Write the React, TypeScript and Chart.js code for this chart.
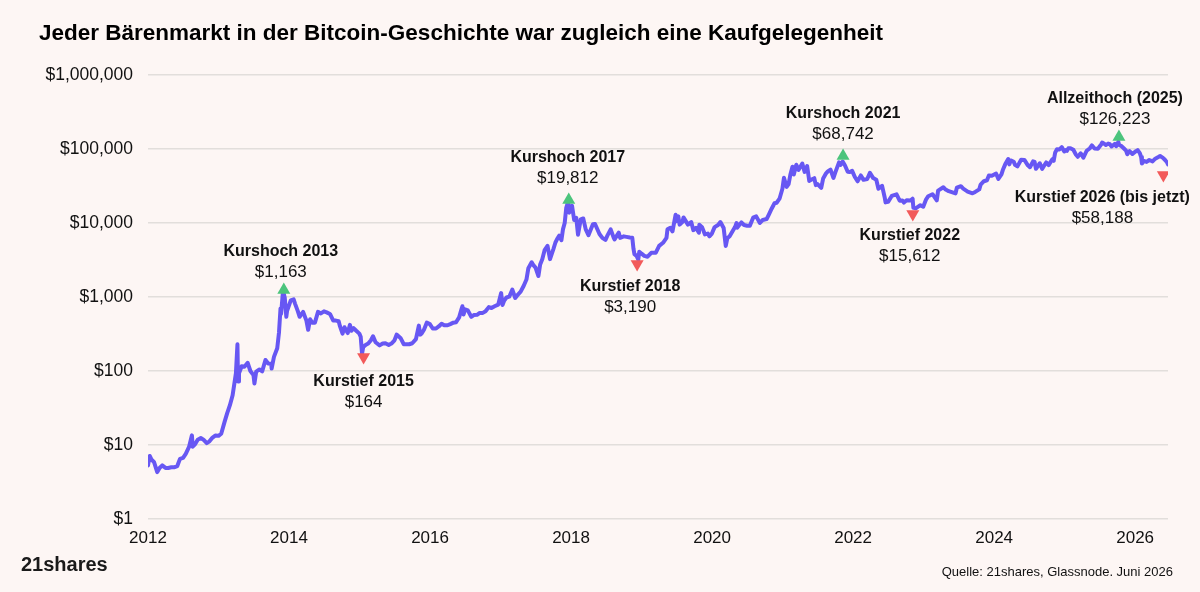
import React, { useEffect, useRef } from 'react';
import { Chart, registerables } from 'chart.js';

Chart.register(...registerables);

const TITLE = 'Jeder Bärenmarkt in der Bitcoin-Geschichte war zugleich eine Kaufgelegenheit';
const SOURCE = 'Quelle: 21shares, Glassnode. Juni 2026';
const LOGO = '21shares';

// Bitcoin price (USD)
const btcSeries: Array<[string, number]> = [
  ['2012-01-01', 5.3], ['2012-01-10', 7.1], ['2012-01-20', 6.3], ['2012-02-01', 5.9], ['2012-02-18', 4.3],
  ['2012-03-01', 4.9], ['2012-03-15', 5.3], ['2012-04-01', 4.9], ['2012-04-15', 4.9], ['2012-05-01', 5.0],
  ['2012-05-15', 5.0], ['2012-06-01', 5.2], ['2012-06-15', 6.5], ['2012-07-01', 6.7], ['2012-07-15', 7.6],
  ['2012-08-01', 9.4], ['2012-08-16', 13.5], ['2012-08-20', 9.5], ['2012-09-01', 10.2], ['2012-09-15', 11.8],
  ['2012-10-01', 12.4], ['2012-10-15', 11.8], ['2012-11-01', 10.6], ['2012-11-15', 11.2], ['2012-12-01', 12.6],
  ['2012-12-15', 13.4],
  ['2013-01-01', 13.3], ['2013-01-15', 14.2], ['2013-02-01', 20.4], ['2013-02-15', 27], ['2013-03-01', 34.5],
  ['2013-03-15', 47], ['2013-04-01', 93], ['2013-04-09', 230], ['2013-04-12', 72], ['2013-04-17', 93],
  ['2013-05-01', 116], ['2013-05-15', 114], ['2013-06-01', 129], ['2013-06-15', 100], ['2013-07-01', 88],
  ['2013-07-06', 68], ['2013-07-15', 98], ['2013-08-01', 105], ['2013-08-15', 99], ['2013-09-01', 141],
  ['2013-09-15', 126], ['2013-10-01', 125], ['2013-10-03', 108], ['2013-10-15', 155], ['2013-11-01', 203],
  ['2013-11-10', 330], ['2013-11-18', 700], ['2013-11-21', 590], ['2013-11-30', 1140], ['2013-12-05', 1100],
  ['2013-12-10', 975], ['2013-12-18', 540], ['2013-12-22', 650],
  ['2014-01-01', 770], ['2014-01-10', 900], ['2014-01-25', 930], ['2014-02-01', 815], ['2014-02-15', 650],
  ['2014-02-25', 540], ['2014-03-01', 560], ['2014-03-15', 630], ['2014-04-01', 480], ['2014-04-10', 360],
  ['2014-04-20', 500], ['2014-05-01', 450], ['2014-05-15', 450], ['2014-05-31', 630], ['2014-06-15', 600],
  ['2014-07-01', 640], ['2014-07-15', 620], ['2014-08-01', 590], ['2014-08-18', 480], ['2014-09-01', 480],
  ['2014-09-15', 470], ['2014-09-22', 400], ['2014-10-05', 320], ['2014-10-15', 390], ['2014-11-01', 325],
  ['2014-11-12', 420], ['2014-11-20', 350], ['2014-12-01', 380], ['2014-12-15', 350], ['2014-12-31', 320],
  ['2015-01-07', 290], ['2015-01-14', 172], ['2015-01-20', 210], ['2015-02-01', 225], ['2015-02-15', 235],
  ['2015-03-01', 260], ['2015-03-12', 295], ['2015-03-25', 245], ['2015-04-15', 222], ['2015-05-01', 235],
  ['2015-05-15', 237], ['2015-06-01', 225], ['2015-06-15', 235], ['2015-07-01', 260], ['2015-07-12', 310],
  ['2015-08-01', 280], ['2015-08-18', 230], ['2015-09-01', 230], ['2015-09-15', 230], ['2015-10-01', 237],
  ['2015-10-20', 270], ['2015-11-04', 410], ['2015-11-11', 310], ['2015-11-20', 325], ['2015-12-01', 365],
  ['2015-12-15', 450], ['2015-12-31', 430],
  ['2016-01-15', 375], ['2016-02-01', 375], ['2016-02-15', 400], ['2016-03-01', 435], ['2016-03-15', 415],
  ['2016-04-01', 415], ['2016-04-15', 430], ['2016-05-01', 450], ['2016-05-15', 455], ['2016-05-31', 530],
  ['2016-06-12', 680], ['2016-06-17', 750], ['2016-06-23', 580], ['2016-07-01', 680], ['2016-07-15', 660],
  ['2016-08-02', 540], ['2016-08-15', 570], ['2016-09-01', 575], ['2016-09-15', 610], ['2016-10-01', 610],
  ['2016-10-15', 640], ['2016-11-01', 730], ['2016-11-15', 710], ['2016-12-01', 750], ['2016-12-20', 790],
  ['2017-01-04', 1130], ['2017-01-11', 780], ['2017-01-20', 895], ['2017-02-01', 985], ['2017-02-15', 1010],
  ['2017-03-03', 1260], ['2017-03-18', 970], ['2017-04-01', 1080], ['2017-04-15', 1180], ['2017-05-01', 1420],
  ['2017-05-15', 1720], ['2017-05-25', 2450], ['2017-06-11', 2950], ['2017-06-20', 2690], ['2017-07-01', 2500],
  ['2017-07-16', 1920], ['2017-07-25', 2750], ['2017-08-05', 3230], ['2017-08-17', 4300], ['2017-09-01', 4900],
  ['2017-09-14', 3250], ['2017-10-01', 4400], ['2017-10-12', 5450], ['2017-10-20', 6000], ['2017-11-01', 6750],
  ['2017-11-12', 5850], ['2017-11-20', 8200], ['2017-11-29', 10000], ['2017-12-07', 16000], ['2017-12-17', 19500],
  ['2017-12-22', 13800],
  ['2018-01-06', 17100], ['2018-01-17', 11000], ['2018-01-28', 11700], ['2018-02-06', 6950], ['2018-02-20', 11200],
  ['2018-03-05', 11500], ['2018-03-18', 8200], ['2018-04-01', 6850], ['2018-04-24', 9600], ['2018-05-05', 9700],
  ['2018-05-28', 7100], ['2018-06-12', 6300], ['2018-06-28', 5900], ['2018-07-08', 6750], ['2018-07-25', 8200],
  ['2018-08-10', 6300], ['2018-08-14', 6000], ['2018-09-05', 7400], ['2018-09-12', 6300], ['2018-10-01', 6600],
  ['2018-10-15', 6500], ['2018-11-01', 6370], ['2018-11-14', 6300], ['2018-11-20', 4500], ['2018-11-25', 3800],
  ['2018-12-06', 3600], ['2018-12-15', 3200], ['2018-12-20', 4100],
  ['2019-01-01', 3850], ['2019-01-15', 3600], ['2019-02-01', 3500], ['2019-02-20', 3950], ['2019-03-15', 3950],
  ['2019-04-02', 4900], ['2019-04-22', 5400], ['2019-05-10', 6300], ['2019-05-15', 8200], ['2019-05-30', 8600],
  ['2019-06-10', 7700], ['2019-06-26', 12900], ['2019-07-02', 10600], ['2019-07-10', 12300], ['2019-07-17', 9500],
  ['2019-08-01', 10400], ['2019-08-06', 11900], ['2019-08-29', 9500], ['2019-09-15', 10300], ['2019-09-26', 8000],
  ['2019-10-10', 8600], ['2019-10-25', 7400], ['2019-10-27', 9500], ['2019-11-10', 8800], ['2019-11-25', 7000],
  ['2019-12-10', 7200], ['2019-12-18', 6600], ['2019-12-31', 7200],
  ['2020-01-14', 8800], ['2020-02-01', 9400], ['2020-02-13', 10300], ['2020-03-01', 8550], ['2020-03-12', 4900],
  ['2020-03-20', 6200], ['2020-04-01', 6600], ['2020-04-29', 8800], ['2020-05-07', 10000], ['2020-05-10', 8600],
  ['2020-06-01', 10200], ['2020-06-15', 9400], ['2020-07-01', 9200], ['2020-07-15', 9200], ['2020-08-01', 11800],
  ['2020-08-17', 12300], ['2020-09-05', 10000], ['2020-09-20', 11000], ['2020-10-10', 11300], ['2020-10-21', 12900],
  ['2020-11-05', 15600], ['2020-11-20', 18500], ['2020-12-01', 18800], ['2020-12-16', 21300], ['2020-12-31', 29000],
  ['2021-01-08', 40800], ['2021-01-22', 30800], ['2021-02-01', 33500], ['2021-02-10', 44800], ['2021-02-21', 57500],
  ['2021-02-28', 45200], ['2021-03-13', 61200], ['2021-03-25', 52300], ['2021-04-13', 63500], ['2021-04-25', 49000],
  ['2021-05-08', 58800], ['2021-05-19', 37000], ['2021-05-25', 38000], ['2021-06-14', 40300], ['2021-06-22', 32500],
  ['2021-07-01', 33500], ['2021-07-20', 29800], ['2021-07-30', 40000], ['2021-08-14', 47000], ['2021-08-23', 49800],
  ['2021-09-06', 52700], ['2021-09-21', 40600], ['2021-10-01', 48200], ['2021-10-20', 66000], ['2021-10-28', 60800],
  ['2021-11-08', 67500], ['2021-11-20', 59800], ['2021-12-04', 49300], ['2021-12-15', 48900], ['2021-12-27', 50700],
  ['2022-01-10', 41800], ['2022-01-24', 36600], ['2022-02-10', 43900], ['2022-02-24', 38300], ['2022-03-15', 39300],
  ['2022-03-29', 47500], ['2022-04-15', 40500], ['2022-05-01', 38500], ['2022-05-12', 29000], ['2022-05-31', 31800],
  ['2022-06-13', 22500], ['2022-06-18', 19000], ['2022-07-01', 19300], ['2022-07-20', 23200], ['2022-08-14', 24400],
  ['2022-08-30', 20000], ['2022-09-13', 20200], ['2022-09-21', 18900], ['2022-10-05', 20300], ['2022-10-25', 20100],
  ['2022-11-05', 21300], ['2022-11-09', 16000], ['2022-11-21', 15800], ['2022-12-15', 17400], ['2022-12-30', 16600],
  ['2023-01-14', 20900], ['2023-01-25', 23000], ['2023-02-16', 24500], ['2023-03-10', 20200], ['2023-03-17', 27400],
  ['2023-04-13', 30400], ['2023-04-25', 28300], ['2023-05-11', 26900], ['2023-06-15', 25100], ['2023-06-22', 30000],
  ['2023-07-13', 31400], ['2023-07-25', 29200], ['2023-08-17', 26600], ['2023-09-11', 25200], ['2023-09-25', 26300],
  ['2023-10-16', 28500], ['2023-10-23', 33000], ['2023-11-09', 36700], ['2023-11-25', 37800], ['2023-12-05', 44000],
  ['2023-12-20', 43600],
  ['2024-01-11', 46600], ['2024-01-23', 39500], ['2024-02-08', 45300], ['2024-02-15', 51900], ['2024-02-28', 62500],
  ['2024-03-14', 73100], ['2024-03-20', 62000], ['2024-03-27', 70000], ['2024-04-12', 67200], ['2024-04-18', 61300],
  ['2024-05-01', 58200], ['2024-05-20', 71400], ['2024-06-06', 71100], ['2024-06-24', 60200], ['2024-07-05', 56700],
  ['2024-07-21', 68000], ['2024-07-29', 66800], ['2024-08-05', 54000], ['2024-08-25', 64200], ['2024-09-06', 53900],
  ['2024-09-27', 65800], ['2024-10-10', 60500], ['2024-10-29', 72700], ['2024-11-05', 69300], ['2024-11-13', 90000],
  ['2024-11-22', 98900], ['2024-12-05', 98700], ['2024-12-17', 106000], ['2024-12-30', 92700],
  ['2025-01-07', 96900], ['2025-01-13', 94500], ['2025-01-20', 102000], ['2025-01-31', 102400], ['2025-02-15', 97500],
  ['2025-02-28', 84400], ['2025-03-10', 78500], ['2025-03-25', 87500], ['2025-04-08', 76300], ['2025-04-25', 94700],
  ['2025-05-12', 102500], ['2025-05-22', 111700], ['2025-06-05', 101600], ['2025-06-22', 100900], ['2025-07-10', 116000],
  ['2025-07-14', 122000], ['2025-07-25', 117600], ['2025-08-02', 113000], ['2025-08-14', 118300], ['2025-08-23', 116000],
  ['2025-09-01', 108200], ['2025-09-18', 117000], ['2025-09-25', 109000], ['2025-10-06', 124700], ['2025-10-10', 113200],
  ['2025-10-20', 110500], ['2025-11-04', 101500], ['2025-11-15', 95000], ['2025-11-21', 85000], ['2025-12-03', 93500],
  ['2025-12-18', 85500],
  ['2026-01-05', 93500], ['2026-01-14', 96500], ['2026-01-25', 88000], ['2026-02-01', 78000], ['2026-02-05', 63500],
  ['2026-02-15', 69000], ['2026-03-01', 67000], ['2026-03-15', 71000], ['2026-04-01', 68000], ['2026-04-15', 74000],
  ['2026-05-01', 78000], ['2026-05-10', 80500], ['2026-05-25', 76000], ['2026-06-05', 71000], ['2026-06-15', 66000],
  ['2026-06-20', 62000],
];

const yTickValues = [1, 10, 100, 1000, 10000, 100000, 1000000];
const xTickYears = [2012, 2014, 2016, 2018, 2020, 2022, 2024, 2026];

// Annotation markers
const markerDates = ['2013-12-05', '2015-01-22', '2017-12-20', '2018-12-09', '2021-11-10', '2022-11-06', '2025-10-09', '2026-05-27'];
const markerValues = [1244, 155, 20470, 2793, 80400, 13200, 145000, 44500];
const markerKinds = ['high', 'low', 'high', 'low', 'high', 'low', 'high', 'low'];
const markerTitles = ['Kurshoch 2013', 'Kurstief 2015', 'Kurshoch 2017', 'Kurstief 2018', 'Kurshoch 2021', 'Kurstief 2022', 'Allzeithoch (2025)', 'Kurstief 2026 (bis jetzt)'];
const markerPrices = ['$1,163', '$164', '$19,812', '$3,190', '$68,742', '$15,612', '$126,223', '$58,188'];

// label layout offsets relative to marker (px)
const labelDx = [-3, 0, -1, -7, 0, -3, -4, -61];
const labelDy = [-38, 25, -42, 23, -42, 22, -38, 23];

const FONT = "'Liberation Sans', Arial, Helvetica, sans-serif";
const BG = '#fdf6f4';
const LINE = '#6757f3';
const GREEN = '#4cc47c';
const RED = '#f25a5a';

function toYear(d: string): number {
  const [y, m, day] = d.split('-').map(Number);
  const start = Date.UTC(y, 0, 1);
  const end = Date.UTC(y + 1, 0, 1);
  return y + (Date.UTC(y, m - 1, day) - start) / (end - start);
}

export default function App() {
  const ref = useRef<HTMLCanvasElement | null>(null);

  useEffect(() => {
    if (!ref.current) return;
    const lineData = btcSeries.map(([d, v]) => ({ x: toYear(d), y: v }));
    const markerData = markerDates.map((d, i) => ({ x: toYear(d), y: markerValues[i] }));
    const lastX = lineData[lineData.length - 1].x;

    const annotPlugin = {
      id: 'annot',
      afterDatasetsDraw(chart: any) {
        const ctx = chart.ctx;
        const xs = chart.scales.x;
        const ys = chart.scales.y;
        ctx.save();
        ctx.textAlign = 'center';
        ctx.textBaseline = 'middle';
        ctx.fillStyle = '#111111';
        markerData.forEach((p, i) => {
          const px = xs.getPixelForValue(p.x) + labelDx[i];
          const py = ys.getPixelForValue(p.y) + labelDy[i];
          ctx.font = `bold 16px ${FONT}`;
          ctx.fillText(markerTitles[i], px, py);
          ctx.font = `17px ${FONT}`;
          ctx.fillText(markerPrices[i], px, py + 20);
        });
        ctx.restore();
      },
      afterDraw(chart: any) {
        const ctx = chart.ctx;
        ctx.save();
        ctx.fillStyle = '#000000';
        ctx.textBaseline = 'middle';
        ctx.textAlign = 'left';
        ctx.font = `bold 22.5px ${FONT}`;
        ctx.fillText(TITLE, 39, 34);
        ctx.font = `bold 20px ${FONT}`;
        ctx.fillStyle = '#1a1a1a';
        ctx.fillText(LOGO, 21, 565);
        ctx.textAlign = 'right';
        ctx.font = `13px ${FONT}`;
        ctx.fillStyle = '#111111';
        ctx.fillText(SOURCE, 1173, 572);
        ctx.restore();
      },
    };

    const chart = new Chart(ref.current, {
      type: 'line',
      data: {
        datasets: [
          {
            type: 'line',
            data: lineData,
            borderColor: LINE,
            borderWidth: 4,
            pointRadius: 0,
            tension: 0,
            borderJoinStyle: 'round',
            borderCapStyle: 'round',
            order: 2,
          } as any,
          {
            type: 'scatter',
            data: markerData,
            pointStyle: 'triangle',
            pointRadius: 7.5,
            pointBorderWidth: 0,
            borderWidth: 0,
            pointRotation: markerKinds.map((k) => (k === 'high' ? 0 : 180)),
            pointBackgroundColor: markerKinds.map((k) => (k === 'high' ? GREEN : RED)),
            backgroundColor: markerKinds.map((k) => (k === 'high' ? GREEN : RED)),
            order: 1,
          } as any,
        ],
      },
      options: {
        animation: false,
        responsive: true,
        maintainAspectRatio: false,
        layout: { padding: { top: 75, right: 32, bottom: 33, left: 0 } },
        plugins: {
          legend: { display: false },
          tooltip: { enabled: false },
          title: { display: false },
        },
        scales: {
          x: {
            type: 'linear',
            min: 2012,
            max: lastX,
            afterBuildTicks: (s: any) => {
              s.ticks = xTickYears.map((v) => ({ value: v }));
            },
            afterFit: (s: any) => {
              s.height = 40;
            },
            ticks: {
              autoSkip: false,
              maxRotation: 0,
              padding: 9,
              color: '#111111',
              font: { family: FONT, size: 17 },
              callback: (v: any) => String(v),
            },
            grid: { display: false, drawTicks: false },
            border: { display: false },
          },
          y: {
            type: 'logarithmic',
            min: 1,
            max: 1000000,
            afterBuildTicks: (s: any) => {
              s.ticks = yTickValues.map((v) => ({ value: v }));
            },
            afterFit: (s: any) => {
              s.width = 148;
            },
            ticks: {
              autoSkip: false,
              padding: 15,
              color: '#111111',
              font: { family: FONT, size: 17.5 },
              callback: (v: any) => '$' + Number(v).toLocaleString('en-US'),
            },
            grid: { color: '#e2dedb', lineWidth: 1.5, drawTicks: false },
            border: { display: false },
          },
        },
      } as any,
      plugins: [annotPlugin],
    });
    return () => chart.destroy();
  }, []);

  return (
    <div style={{ position: 'fixed', left: 0, top: 0, width: 1200, height: 592, background: BG }}>
      <canvas ref={ref} />
    </div>
  );
}
